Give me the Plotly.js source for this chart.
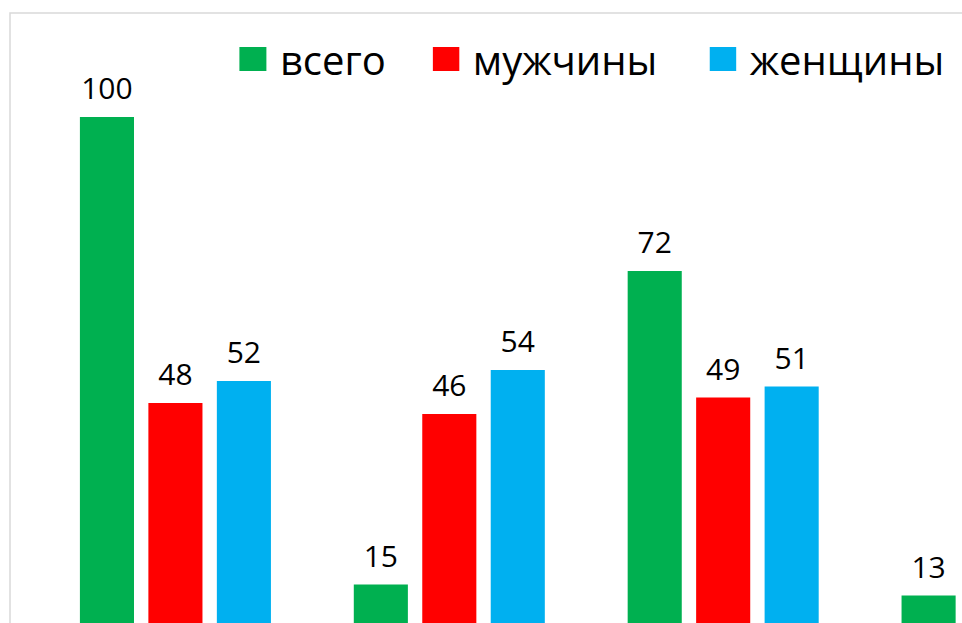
<!DOCTYPE html>
<html>
<head>
<meta charset="utf-8">
<script src="https://cdn.plot.ly/plotly-3.0.1.min.js"></script>
<style>
html, body { margin: 0; padding: 0; overflow: hidden; background: #fff; width: 962px; height: 623px; }
#chart { width: 1200px; height: 700px; }
</style>
</head>
<body>
<div id="chart"></div>
<script>
// Data (4th group partially off-picture)
const categories = ["1", "2", "3", "4"];
const seriesNames = ["всего", "мужчины", "женщины"];
const totalVals = [100, 15, 72, 13];
const menVals = [48, 46, 49, null];
const womenVals = [52, 54, 51, null];

const colors = ["#00b050", "#ff0000", "#00b0f0"];
const allVals = [totalVals, menVals, womenVals];
const legendIds = ["legend", "legend2", "legend3"];

const traces = [];
allVals.forEach((vals, i) => {
  traces.push({
    type: "bar",
    name: seriesNames[i],
    x: categories,
    y: vals,
    marker: { color: colors[i] },
    hoverinfo: "skip",
    legend: legendIds[i],
    offsetgroup: "g" + i
  });
});
allVals.forEach((vals, i) => {
  traces.push({
    type: "scatter",
    mode: "markers+text",
    x: categories,
    y: vals,
    text: vals.map(v => v === null ? "" : String(v)),
    textposition: "top center",
    textfont: { family: "Open Sans", size: 30, color: "#000" },
    marker: { size: 15, opacity: 0, color: colors[i] },
    showlegend: false,
    hoverinfo: "skip",
    cliponaxis: false,
    offsetgroup: "g" + i
  });
});

const plotLeft = 10, plotRight = 1134.5, plotW = plotRight - plotLeft;
const px2paper = p => (p - plotLeft) / plotW;
const legendFont = { family: "Open Sans", size: 40, color: "#000" };
const legY = 1 - (59 - 13) / 654;

const layout = {
  width: 1200,
  height: 700,
  margin: { l: 10, r: 1200 - plotRight, t: 13, b: 33, pad: 0 },
  paper_bgcolor: "#fff",
  plot_bgcolor: "#fff",
  barmode: "group",
  bargap: 0.25,
  bargroupgap: 0.21,
  scattermode: "group",
  scattergap: 0.25,
  xaxis: {
    type: "category",
    range: [-0.604, 3.5],
    showticklabels: false,
    showgrid: false,
    zeroline: false,
    showline: false,
    ticks: ""
  },
  yaxis: {
    range: [0, 118.9],
    showticklabels: false,
    showgrid: false,
    zeroline: false,
    showline: false,
    ticks: ""
  },
  legend: { x: px2paper(240), xanchor: "left", y: legY, yanchor: "middle", orientation: "h", font: legendFont, bgcolor: "rgba(0,0,0,0)" },
  legend2: { x: px2paper(433), xanchor: "left", y: legY, yanchor: "middle", orientation: "h", font: legendFont, bgcolor: "rgba(0,0,0,0)" },
  legend3: { x: px2paper(710), xanchor: "left", y: legY, yanchor: "middle", orientation: "h", font: legendFont, bgcolor: "rgba(0,0,0,0)" },
  shapes: [{
    type: "rect", xref: "paper", yref: "paper", x0: 0, x1: 1, y0: 0, y1: 1,
    line: { color: "#d9d9d9", width: 1.5 }, layer: "below"
  }],
  font: { family: "Open Sans", color: "#000" }
};

Plotly.newPlot("chart", traces, layout, { staticPlot: true, displayModeBar: false }).then(() => {
  document.querySelectorAll(".legend, .legend *").forEach(el => {
    if (el.hasAttribute("clip-path")) el.removeAttribute("clip-path");
  });
  document.querySelectorAll(".legendpoints path").forEach(p => {
    p.setAttribute("d", "M13.5,12H-13.5V-12H13.5Z");
    p.setAttribute("transform", "translate(13,0)");
  });
});
</script>
</body>
</html>
